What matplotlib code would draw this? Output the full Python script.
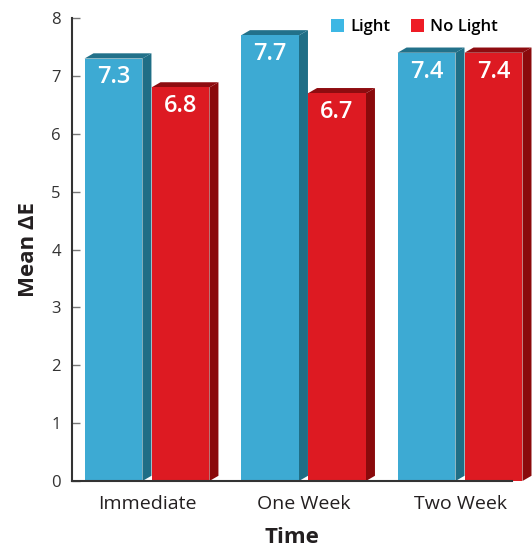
import matplotlib
matplotlib.use("Agg")
import matplotlib.pyplot as plt
from matplotlib.patches import Polygon, Patch
import numpy as np

plt.rcParams['font.family'] = ['Open Sans', 'DejaVu Sans']

categories = ["Immediate", "One Week", "Two Week"]
series_names = ["Light", "No Light"]
light_vals = [7.3, 7.7, 7.4]
nolight_vals = [6.8, 6.7, 7.4]
y_ticks = [0, 1, 2, 3, 4, 5, 6, 7, 8]

front_colors = ["#3DAAD3", "#DD1A22"]
side_colors = ["#1F6E86", "#8A0A0C"]
top_colors = ["#22718A", "#8E0C10"]
legend_colors = ["#3DB7E4", "#EE1C25"]

W, H = 532, 551
fig = plt.figure(figsize=(W / 100, H / 100), dpi=100)
ax = fig.add_axes([72 / W, 70 / H, 440 / W, 463 / H])

x = np.arange(len(categories))
width = 0.37
offset = 0.214
depth_x = 0.0575
depth_y = 0.09

for i, vals in enumerate([light_vals, nolight_vals]):
    pos = x + (offset if i else -offset)
    bars = ax.bar(pos, vals, width=width, color=front_colors[i], zorder=3,
                  clip_on=False, linewidth=0)
    for bar, v in zip(bars, vals):
        x0 = bar.get_x()
        x1 = x0 + bar.get_width()
        side = Polygon([(x1, 0), (x1 + depth_x, depth_y),
                        (x1 + depth_x, v + depth_y), (x1, v)],
                       closed=True, facecolor=side_colors[i], edgecolor='none',
                       zorder=2, clip_on=False)
        top = Polygon([(x0, v), (x0 + depth_x, v + depth_y),
                       (x1 + depth_x, v + depth_y), (x1, v)],
                      closed=True, facecolor=top_colors[i], edgecolor='none',
                      zorder=2, clip_on=False)
        ax.add_patch(side)
        ax.add_patch(top)
        ax.annotate(f"{v:.1f}", xy=(bar.get_x() + bar.get_width() / 2, v),
                    xytext=(0, -5), textcoords='offset points',
                    ha='center', va='top', color='white', fontsize=17,
                    fontweight='semibold', zorder=5)

ax.set_xlim(-0.479, 2.332)
ax.set_ylim(0, 8)
ax.set_yticks(y_ticks)
ax.set_xticks(x)
ax.set_xticklabels(categories)
ax.tick_params(axis='y', direction='in', length=6, width=1, color='#777777',
               labelsize=12, labelcolor='#333333', pad=8)
ax.tick_params(axis='x', length=0, labelsize=14, labelcolor='#231F20', pad=10)

for s in ['top', 'right']:
    ax.spines[s].set_visible(False)
for s in ['left', 'bottom']:
    ax.spines[s].set_color('#333333')
    ax.spines[s].set_linewidth(1.5)
    ax.spines[s].set_zorder(4)

ax.set_ylabel("Mean ΔE", fontsize=16, fontweight='bold', color='#231F20', labelpad=9)
ax.set_xlabel("Time", fontsize=16, fontweight='bold', color='#231F20', labelpad=10)

handles = [Patch(facecolor=c, edgecolor='none') for c in legend_colors]
fig.legend(handles, series_names, loc='upper right',
           bbox_to_anchor=(513 / W, 1 - 4 / H), ncol=2, frameon=False,
           handlelength=0.8, handleheight=0.8, handletextpad=0.35,
           columnspacing=1.25, prop={'size': 12, 'weight': 'semibold'})

fig.savefig("out.png", dpi=100)
